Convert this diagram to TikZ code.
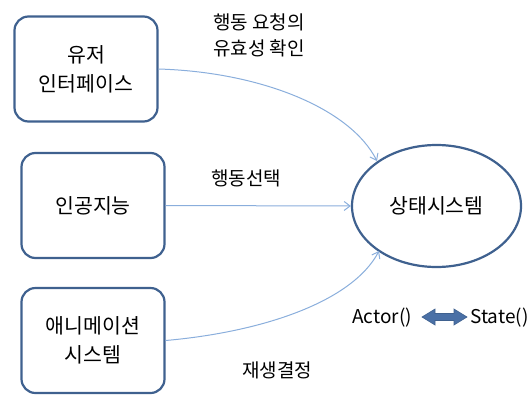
\documentclass[tikz,border=0pt]{standalone}
\usepackage{fontspec}
\setmainfont{Noto Sans CJK KR}
\usetikzlibrary{arrows.meta,shapes.geometric}
\definecolor{boxc}{HTML}{3F618F}
\definecolor{linec}{HTML}{8AAEDC}
\definecolor{fatc}{HTML}{4A70A6}
\tikzset{
  sysbox/.style={draw=boxc, line width=2.2pt, rounded corners=14pt, minimum width=143pt, minimum height=105pt, align=center, font=\fontsize{20.5}{29}\selectfont, inner sep=0pt},
  conn/.style={draw=linec, line width=1pt, -{Straight Barb[length=6pt,width=9pt]}},
  lbl/.style={align=center, font=\fontsize{19}{26}\selectfont, inner sep=0pt}
}
\begin{document}
\begin{tikzpicture}[x=1pt,y=-1pt]
\useasboundingbox (0,0) rectangle (532,394);
\node[sysbox] (ui) at (86,69) {유저\\인터페이스};
\node[sysbox] (ai) at (93,205.5) {인공지능};
\node[sysbox] (anim) at (93,340.5) {애니메이션\\시스템};
\node[draw=boxc, line width=2.2pt, ellipse, minimum width=169pt, minimum height=122pt, font=\fontsize{20.5}{27}\selectfont] (state) at (436.5,206) {상태시스템};
\coordinate (e1) at (377,161);
\coordinate (e3) at (379,251);
\draw[conn] (ui.east) .. controls (260,72) and (350,108) .. (e1);
\draw[conn] (ai.east) -- (state.west);
\draw[conn] (anim.east) .. controls (262,332) and (352,302) .. (e3);
\node[lbl] (l1) at (259,35) {행동 요청의\\유효성 확인};
\node[lbl] (l2) at (246,178) {행동선택};
\node[lbl] (l3) at (277,370) {재생결정};
\node[lbl, font=\fontsize{19}{20}\selectfont] (actor) at (382,318) {Actor()};
\node[lbl, font=\fontsize{19}{20}\selectfont] (st) at (499.5,318) {State()};
\fill[fatc, draw=boxc, line width=0.6pt] (422,317) -- (435,309) -- (435,313.5) -- (454,313.5) -- (454,309) -- (467,317) -- (454,325) -- (454,320.5) -- (435,320.5) -- (435,325) -- cycle;
\end{tikzpicture}
\end{document}
